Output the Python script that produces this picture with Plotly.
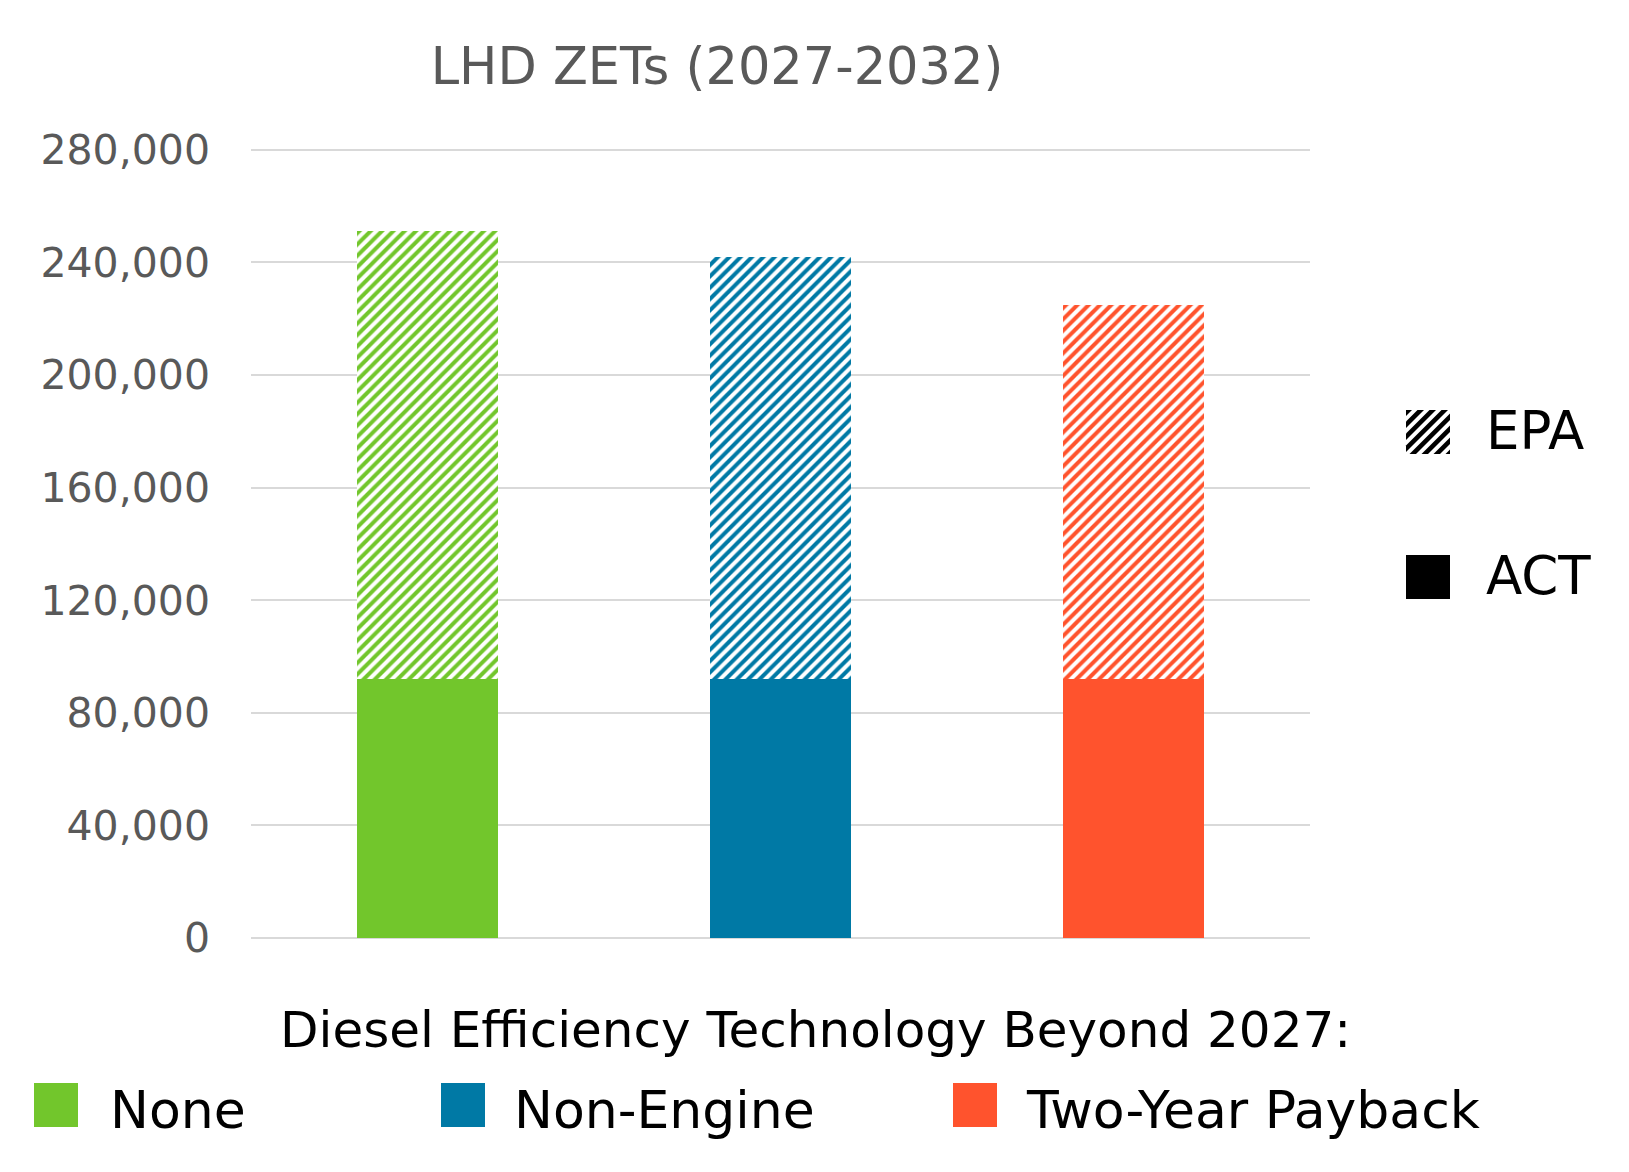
import plotly.graph_objects as go

# ---- data ----
categories = ["None", "Non-Engine", "Two-Year Payback"]
act_values = [92000, 92000, 92000]
epa_values = [251000, 242000, 225000]
colors = ["#72C62C", "#0079A5", "#FF532D"]
y_ticks = [0, 40000, 80000, 120000, 160000, 200000, 240000, 280000]
title_text = "LHD ZETs (2027-2032)"
xaxis_text = "Diesel Efficiency Technology Beyond 2027:"
scenario_labels = ["EPA", "ACT"]

W, H = 1629, 1172
OFF = 8  # page body margin
# plot area in screen pixels
Ls, Rs, Ts, Bs = 251, 1310, 150, 938
YMAX = 281000
FONT = "DejaVu Sans"


def px(x):
    return (x - Ls) / (Rs - Ls)


def py(y):
    return (Bs - y) / (Bs - Ts) * (280000 / YMAX)


fig = go.Figure()
epa_extra = [e - a for e, a in zip(epa_values, act_values)]

fig.add_trace(go.Bar(
    x=categories, y=act_values, name=scenario_labels[1],
    marker=dict(color=colors, line=dict(width=0)), showlegend=False,
    hovertemplate="%{x}<br>ACT: %{y:,}<extra></extra>"))
fig.add_trace(go.Bar(
    x=categories, y=epa_extra, name=scenario_labels[0],
    customdata=epa_values,
    marker=dict(color="white", line=dict(width=0),
                pattern=dict(shape="/", fgcolor=colors, bgcolor="white",
                             size=8, solidity=0.5, fillmode="replace")),
    showlegend=False,
    hovertemplate="%{x}<br>EPA: %{customdata:,}<extra></extra>"))

shapes = []
annotations = []


def clip_poly(poly, xmin, xmax, ymin, ymax):
    def clip(pts, inside, inter):
        out = []
        n = len(pts)
        for i in range(n):
            cur, prev = pts[i], pts[i - 1]
            if inside(cur):
                if not inside(prev):
                    out.append(inter(prev, cur))
                out.append(cur)
            elif inside(prev):
                out.append(inter(prev, cur))
        return out

    def ix(v):
        return lambda p, q: (v, p[1] + (q[1] - p[1]) * (v - p[0]) / (q[0] - p[0]))

    def iy(v):
        return lambda p, q: (p[0] + (q[0] - p[0]) * (v - p[1]) / (q[1] - p[1]), v)

    pts = poly
    pts = clip(pts, lambda p: p[0] >= xmin, ix(xmin)) if pts else pts
    pts = clip(pts, lambda p: p[0] <= xmax, ix(xmax)) if pts else pts
    pts = clip(pts, lambda p: p[1] >= ymin, iy(ymin)) if pts else pts
    pts = clip(pts, lambda p: p[1] <= ymax, iy(ymax)) if pts else pts
    return pts


def swatch(cx_px, cy_px, size, color, hatched=False):
    ax, ay = px(cx_px), py(cy_px)
    h = size / 2
    if not hatched:
        shapes.append(dict(type="rect", xref="paper", yref="paper",
                           xsizemode="pixel", ysizemode="pixel",
                           xanchor=ax, yanchor=ay,
                           x0=-h, x1=h, y0=-h, y1=h,
                           fillcolor=color, line=dict(width=0)))
        return
    period, band = 12.0, 6.5
    k = -size - 2
    while k < size:
        band_poly = [(-2 * size, -2 * size + k), (2 * size, 2 * size + k),
                     (2 * size, 2 * size + k + band), (-2 * size, -2 * size + k + band)]
        pts = clip_poly(band_poly, -h, h, -h, h)
        if len(pts) >= 3:
            path = "M" + "L".join(f"{p[0]:.2f},{p[1]:.2f}" for p in pts) + "Z"
            shapes.append(dict(type="path", xref="paper", yref="paper",
                               xsizemode="pixel", ysizemode="pixel",
                               xanchor=ax, yanchor=ay, path=path,
                               fillcolor=color, line=dict(width=0)))
        k += period


LEG_FONT = dict(family=FONT, size=53, color="black")
# right legend (EPA / ACT)
swatch(1428, 432, 44, "black", hatched=True)
swatch(1428, 577, 44, "black")
annotations.append(dict(text=scenario_labels[0], xref="paper", yref="paper",
                        x=px(1484), y=py(431), xanchor="left", yanchor="middle",
                        showarrow=False, font=LEG_FONT))
annotations.append(dict(text=scenario_labels[1], xref="paper", yref="paper",
                        x=px(1484), y=py(576), xanchor="left", yanchor="middle",
                        showarrow=False, font=LEG_FONT))

# bottom legend (categories)
sq_x = [56, 463, 975]
txt_x = [108, 512, 1024]
CAT_FONT = dict(family=FONT, size=52, color="black")
for lab, col, sx, tx in zip(categories, colors, sq_x, txt_x):
    swatch(sx, 1105, 44, col)
    annotations.append(dict(text=lab, xref="paper", yref="paper",
                            x=px(tx), y=py(1110), xanchor="left", yanchor="middle",
                            showarrow=False, font=CAT_FONT))

# x-axis title
annotations.append(dict(text=xaxis_text, xref="paper", yref="paper",
                        x=px(815), y=py(1030), xanchor="center", yanchor="middle",
                        showarrow=False, font=dict(family=FONT, size=50, color="black")))

top_px = Bs - (Bs - Ts) * YMAX / 280000
fig.update_layout(
    width=W, height=H,
    margin=dict(l=Ls - OFF, r=W - Rs + OFF, t=top_px - OFF, b=H - Bs + OFF, autoexpand=False),
    paper_bgcolor="white", plot_bgcolor="white",
    barmode="stack", bargap=0.6,
    font=dict(family=FONT, color="#595959"),
    title=dict(text=title_text, x=(717 - OFF) / W, y=1 - (66 - OFF) / H,
               xref="container", yref="container",
               xanchor="center", yanchor="middle",
               font=dict(family=FONT, size=51, color="#595959")),
    xaxis=dict(showticklabels=False, showgrid=False, zeroline=False, showline=False,
               ticks="", categoryorder="array", categoryarray=categories),
    yaxis=dict(range=[0, YMAX], tickvals=y_ticks, tickformat=",",
               showgrid=True, gridcolor="#D9D9D9", gridwidth=2,
               zeroline=True, zerolinecolor="#D9D9D9", zerolinewidth=2,
               showline=False, ticks="", ticklabelstandoff=40,
               tickfont=dict(family=FONT, size=41, color="#595959")),
    shapes=shapes, annotations=annotations,
    showlegend=False,
)

fig.write_html("out.html")
